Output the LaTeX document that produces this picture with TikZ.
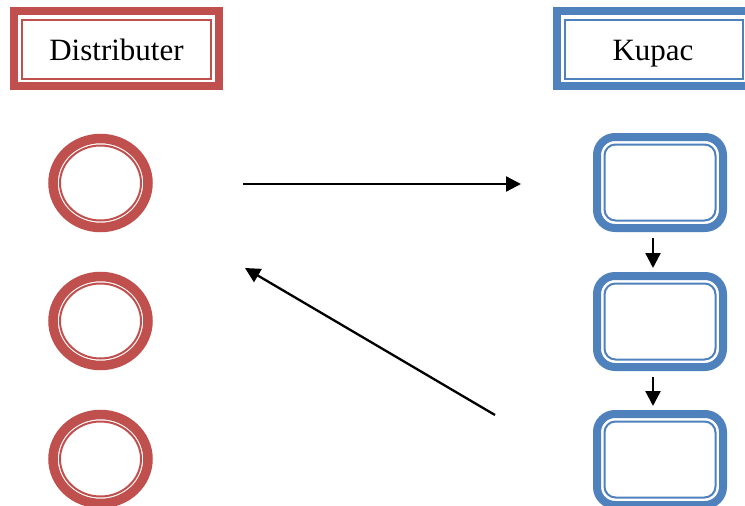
\documentclass[tikz,border=0pt]{standalone}
\usepackage{fontspec}
\setmainfont{Liberation Serif}
\usetikzlibrary{arrows.meta}
\definecolor{dred}{HTML}{C0504D}
\definecolor{dblue}{HTML}{4F81BD}
\tikzset{
  outerband/.style={line width=8pt},
  innerline/.style={line width=2pt},
  arr/.style={line width=2.3pt,-{Triangle[length=15pt,width=15pt]}},
  lbl/.style={font=\fontsize{31}{36}\selectfont,inner sep=0pt,anchor=base}
}
\begin{document}
\begin{tikzpicture}[x=1pt,y=-1pt]
\clip (0,0) rectangle (745,506);
\fill[white] (0,0) rectangle (745,506);
% Header boxes
\draw[dred,outerband] (14,11) rectangle (219,86);
\draw[dred,innerline] (22,20) rectangle (211,79);
\node[lbl] (dist) at (116.5,60) {Distributer};
\draw[dblue,outerband] (557,11) rectangle (752,86);
\draw[dblue,innerline] (565,20) rectangle (743,79);
\node[lbl] (kupac) at (653,60) {Kupac};
% Circles
\foreach \i/\y in {1/183,2/321,3/459}{
  \draw[dred,line width=9.5pt] (100.5,\y) ellipse [x radius=47.5, y radius=44.5];
  \draw[dred,innerline] (100.5,\y) ellipse [x radius=40.5, y radius=37.5];
  \coordinate (c\i) at (100.5,\y);
}
% Rounded boxes
\foreach \i/\y in {1/133,2/272,3/410}{
  \draw[dblue,line width=8pt,rounded corners=18pt] (597,\y+4) rectangle (723,\y+95);
  \draw[dblue,innerline,rounded corners=11pt] (604.5,\y+11.5) rectangle (715.5,\y+87.5);
}
\coordinate (h1) at (243,184);
\coordinate (h2) at (521,184);
\coordinate (d1) at (495,415);
\coordinate (d2) at (245,268);
\coordinate (v1a) at (653,238);
\coordinate (v1b) at (653,268);
\coordinate (v2a) at (653,377);
\coordinate (v2b) at (653,406);
\draw[arr] (h1) -- (h2);
\draw[arr] (d1) -- (d2);
\draw[arr] (v1a) -- (v1b);
\draw[arr] (v2a) -- (v2b);
\end{tikzpicture}
\end{document}
